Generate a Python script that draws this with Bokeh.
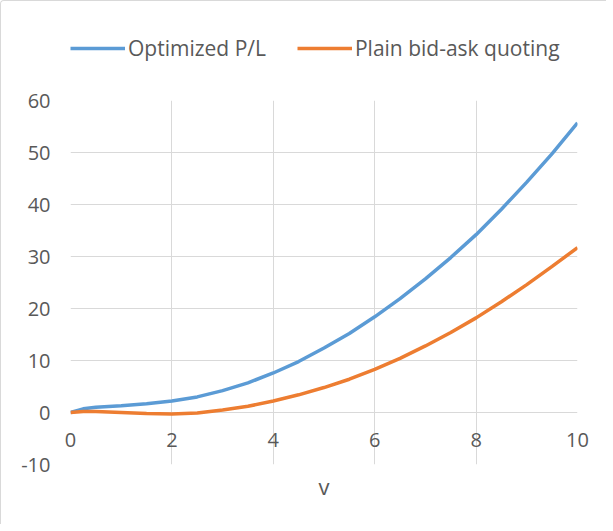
from bokeh.plotting import figure
from bokeh.models import FixedTicker, Legend, LegendItem, Range1d
from bokeh.layouts import column
from bokeh.embed import file_html
from bokeh.resources import INLINE

v = [0, 0.25, 0.5, 1, 1.5, 2, 2.5, 3, 3.5, 4, 4.5, 5, 5.5, 6, 6.5, 7, 7.5, 8, 8.5, 9, 9.5, 10]
optimized = [0, 0.7, 1.0, 1.3, 1.7, 2.2, 3.0, 4.2, 5.7, 7.6, 9.8, 12.4, 15.2, 18.4, 21.9, 25.7, 29.8, 34.2, 39.1, 44.3, 49.8, 55.7]
plain = [0, 0.2, 0.2, 0.0, -0.2, -0.3, -0.1, 0.5, 1.2, 2.2, 3.4, 4.8, 6.4, 8.3, 10.4, 12.8, 15.4, 18.2, 21.3, 24.6, 28.1, 31.7]
x_ticks = [0, 2, 4, 6, 8, 10]
y_ticks = [-10, 0, 10, 20, 30, 40, 50, 60]
y_tick_labels = {t: str(t) for t in y_ticks}
series_names = ["Optimized P/L", "Plain bid-ask quoting"]
series_colors = ["#5B9BD5", "#ED7D31"]
x_label = "v"

FONT = "Open Sans"
TXT = "#595959"
GRID = "#d9d9d9"
LW = 3.5
NAN = float("nan")

# ---- legend strip (top); its frame is aligned with the chart frame by the column ----
lg = figure(width=605, height=75, output_backend="svg", toolbar_location=None,
            x_range=Range1d(0, 1), y_range=Range1d(0, 1), min_border=0,
            x_axis_type=None, y_axis_type=None, outline_line_color=None)
lg.grid.visible = False
d1 = lg.line(x=[0], y=[NAN], line_color=series_colors[0], line_width=LW)
d2 = lg.line(x=[0], y=[NAN], line_color=series_colors[1], line_width=LW)
legend = Legend(items=[LegendItem(label=series_names[0], renderers=[d1]),
                       LegendItem(label=series_names[1], renderers=[d2])],
                orientation="horizontal", location=(0, 14),
                glyph_width=55, glyph_height=20, label_standoff=3, spacing=31,
                label_text_font=FONT, label_text_font_size="21px", label_text_color=TXT,
                border_line_color=None, background_fill_alpha=0, padding=0, margin=0)
lg.add_layout(legend)

# ---- main chart ----
p = figure(width=605, height=448, output_backend="svg", toolbar_location=None,
           x_range=Range1d(0, 10), y_range=Range1d(-10, 60),
           min_border_left=69, min_border_right=29, min_border_top=24, min_border_bottom=60,
           outline_line_color=None)

p.line(v, optimized, line_color=series_colors[0], line_width=LW)
p.line(v, plain, line_color=series_colors[1], line_width=LW)

p.xaxis.ticker = FixedTicker(ticks=x_ticks)
p.yaxis.ticker = FixedTicker(ticks=y_ticks)
p.yaxis.major_label_overrides = y_tick_labels
p.xgrid.ticker = FixedTicker(ticks=x_ticks)
p.ygrid.ticker = FixedTicker(ticks=y_ticks)
for g in (p.xgrid, p.ygrid):
    g.grid_line_color = GRID
    g.grid_line_width = 1

for ax in (p.xaxis, p.yaxis):
    ax.axis_line_color = None
    ax.major_tick_line_color = None
    ax.minor_tick_line_color = None
    ax.major_tick_out = 0
    ax.minor_tick_out = 0
    ax.major_label_text_font = FONT
    ax.major_label_text_font_size = "20px"
    ax.major_label_text_color = TXT
p.xaxis.major_label_standoff = -32
p.yaxis.major_label_standoff = 20
p.xaxis.axis_label = x_label
p.xaxis.axis_label_text_font = FONT
p.xaxis.axis_label_text_font_size = "22px"
p.xaxis.axis_label_text_font_style = "normal"
p.xaxis.axis_label_text_color = TXT
p.xaxis.axis_label_standoff = 21

layout = column(lg, p, spacing=0,
                styles={"border-left": "1px solid #d9d9d9", "border-top": "1px solid #d9d9d9",
                        "border-top-left-radius": "4px"})

open("out.html", "w").write(file_html(layout, INLINE))
